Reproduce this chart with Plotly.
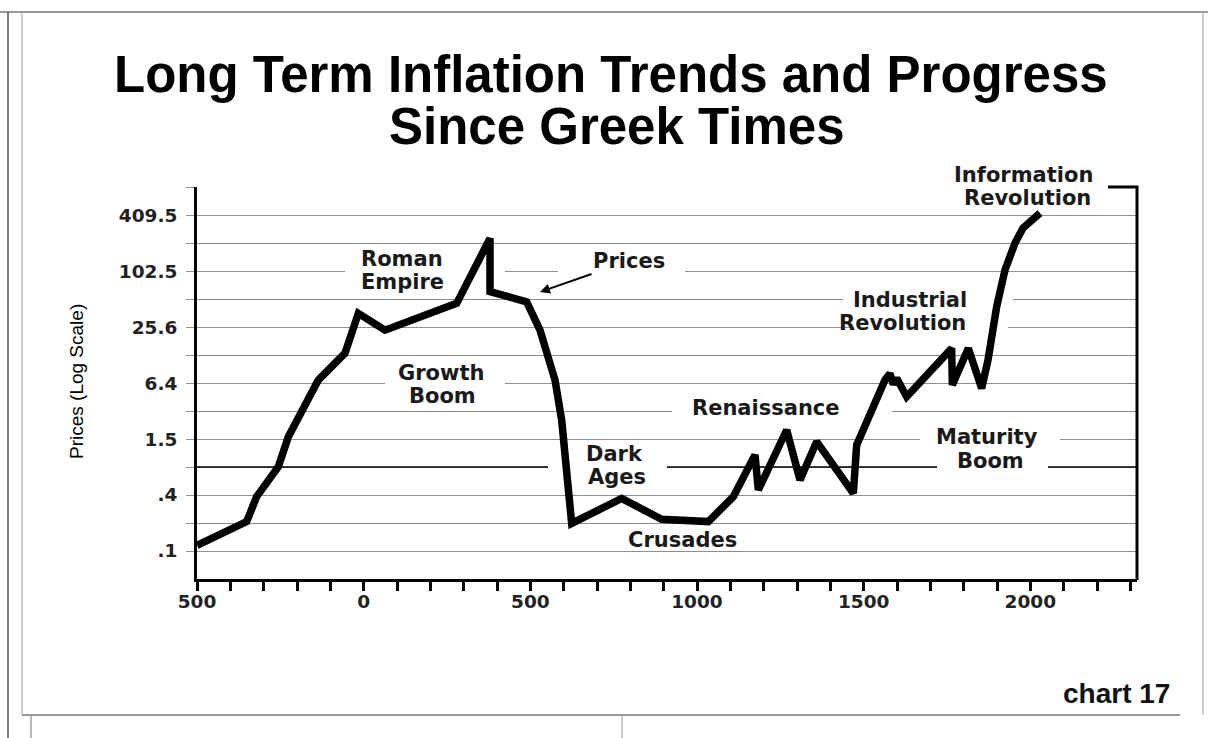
import math
import plotly.graph_objects as go

# ---------------- data ----------------
years = [-500, -351, -321, -256, -226, -191, -136, -56, -16, 64, 279, 379, 379,
         489, 529, 574, 594, 624, 774, 894, 1034, 1109, 1174, 1184, 1269, 1309,
         1359, 1469, 1479, 1564, 1579, 1589, 1599, 1629, 1764, 1766, 1814, 1854,
         1873, 1899, 1924, 1954, 1978, 2029]
prices = [0.115, 0.207, 0.384, 0.806, 1.69, 3.02, 6.9, 13.4, 35.9, 23.7, 46, 230, 61.4,
          47.8, 23.7, 6.9, 2.56, 0.198, 0.368, 0.219, 0.207, 0.384, 1.08, 0.453, 2.0, 0.58,
          1.5, 0.417, 1.38, 6.9, 8.1, 6.2, 7.2, 4.56, 15.1, 6.1, 15.1, 5.6,
          11.3, 42.4, 105, 205, 297, 430]

y_tick_vals = [0.1, 0.2, 0.4, 0.8, 1.6, 3.2, 6.4, 12.8, 25.6, 51.2, 102.4, 204.8, 409.6, 819.2]
y_tick_text = [".1", "", ".4", "", "1.5", "", "6.4", "", "25.6", "", "102.5", "", "409.5", ""]

x_tick_vals = list(range(-500, 2301, 100))
x_tick_text = ["500" if v == -500 else (str(v) if v % 500 == 0 else "") for v in x_tick_vals]

labels = [  # text, x px, y px
    ("Roman", 402, 259), ("Empire", 402, 282),
    ("Growth", 441, 373), ("Boom", 442, 396),
    ("Dark", 614, 454), ("Ages", 617, 477),
    ("Crusades", 682, 540),
    ("Renaissance", 766, 408),
    ("Industrial", 910, 300), ("Revolution", 902, 323),
    ("Maturity", 987, 437), ("Boom", 990, 461),
    ("Information", 1023, 175), ("Revolution", 1027, 198),
]

# gaps in gridlines (gridline value, x from px, x to px)
gaps = [(819.2, 940, 1108), (102.4, 345, 505), (102.4, 558, 685), (51.2, 843, 1013),
        (25.6, 850, 1008), (6.4, 385, 505), (3.2, 672, 892), (1.6, 920, 1060),
        (0.8, 548, 667), (0.8, 937, 1048)]

# ---------------- geometry ----------------
W, H = 1208, 738
L, R, T, B = 197, 1137, 187, 579
XR = [-500, 2320]
YLO, YHI = math.log10(0.05), math.log10(819.2)


def px_x(px):
    return (px - L) / (R - L)


def px_y(py):
    return (B - py) / (B - T)


def px_year(px):
    return XR[0] + (px - L) * (XR[1] - XR[0]) / (R - L)


fig = go.Figure()
fig.add_trace(go.Scatter(x=years, y=prices, mode="lines",
                         line=dict(color="black", width=7.5), hoverinfo="skip",
                         showlegend=False))

LBL = dict(family="DejaVu Sans", size=21, color="#1a1a1a", weight="bold")
ann = []
for t, x, y in labels:
    ann.append(dict(text=t, x=px_x(x), y=px_y(y), xref="paper", yref="paper",
                    xanchor="center", yanchor="middle", showarrow=False, font=LBL))
# Prices with arrow
ann.append(dict(text="Prices", x=px_x(540), y=px_y(292), xref="paper", yref="paper",
                showarrow=True, ax=89, ay=-31, arrowhead=2, arrowsize=1, arrowwidth=2,
                arrowcolor="black", standoff=0, font=LBL))
# title
TF = dict(family="Liberation Sans", size=51, color="black", weight="bold")
ann.append(dict(text="Long Term Inflation Trends and Progress", x=px_x(611), y=px_y(74),
                xref="paper", yref="paper", xanchor="center", yanchor="middle",
                showarrow=False, font=TF))
ann.append(dict(text="Since Greek Times", x=px_x(617), y=px_y(126),
                xref="paper", yref="paper", xanchor="center", yanchor="middle",
                showarrow=False, font=TF))
ann.append(dict(text="Prices (Log Scale)", x=px_x(76), y=px_y(382), xref="paper",
                yref="paper", xanchor="center", yanchor="middle", textangle=-90,
                showarrow=False, font=dict(family="Liberation Sans", size=19, color="#000")))
ann.append(dict(text="chart 17", x=px_x(1116), y=px_y(693), xref="paper", yref="paper",
                xanchor="center", yanchor="middle", showarrow=False,
                font=dict(family="Liberation Sans", size=28, color="#111", weight="bold")))

shapes = []
# black line at 0.8
shapes.append(dict(type="line", xref="x", yref="y", x0=XR[0], x1=XR[1], y0=0.8, y1=0.8,
                   line=dict(color="black", width=1.6), layer="between"))
# gaps in gridlines
for v, a, b in gaps:
    shapes.append(dict(type="rect", xref="x", yref="y", x0=px_year(a), x1=px_year(b),
                       y0=v / 1.15, y1=v * 1.15, fillcolor="white",
                       line=dict(width=0), layer="between"))
# right border and top-right corner
shapes.append(dict(type="path", xref="paper", yref="paper",
                   path=f"M {px_x(1108)} {px_y(187)} L {px_x(1137)} {px_y(187)} L {px_x(1137)} {px_y(580)}",
                   line=dict(color="black", width=3), layer="above"))
# page frame
frame = [
    (0, 12, 1208, 12, "#777", 1.5),
    (8, 12, 8, 738, "#555", 1.5),
    (22, 12, 22, 715, "#999", 1),
    (1203, 12, 1203, 715, "#bbb", 1.5),
    (22, 715, 1180, 715, "#999", 2),
    (31, 716, 31, 738, "#777", 1),
    (622, 716, 622, 738, "#999", 1),
]
for x0, y0, x1, y1, c, w in frame:
    shapes.append(dict(type="line", xref="paper", yref="paper", x0=px_x(x0), y0=px_y(y0),
                       x1=px_x(x1), y1=px_y(y1), line=dict(color=c, width=w), layer="above"))

TICKF = dict(family="DejaVu Sans", size=18.5, color="#222", weight="bold")
fig.update_layout(
    width=W, height=H,
    margin=dict(l=L, r=W - R, t=T, b=H - B, pad=0),
    paper_bgcolor="white", plot_bgcolor="white",
    showlegend=False,
    annotations=ann, shapes=shapes,
    xaxis=dict(range=XR, tickmode="array", tickvals=x_tick_vals, ticktext=x_tick_text,
               showgrid=False, zeroline=False, showline=True, linecolor="black", linewidth=3,
               ticks="outside", ticklen=9, tickwidth=3, tickcolor="black", tickfont=TICKF,
               ticklabelstandoff=-5),
    yaxis=dict(type="log", range=[YLO, YHI + 0.0005], tickmode="array", tickvals=y_tick_vals,
               ticktext=y_tick_text, showgrid=True, gridcolor="#8f8f8f", gridwidth=1.2,
               zeroline=False, showline=True, linecolor="black", linewidth=3,
               ticks="outside", ticklen=8, tickwidth=1.2, tickcolor="#8f8f8f",
               ticklabelstandoff=5, tickfont=TICKF),
)

fig.write_html("out.html", config={"displayModeBar": False},
               post_script="document.body.style.margin='0';document.body.style.overflow='hidden';")
